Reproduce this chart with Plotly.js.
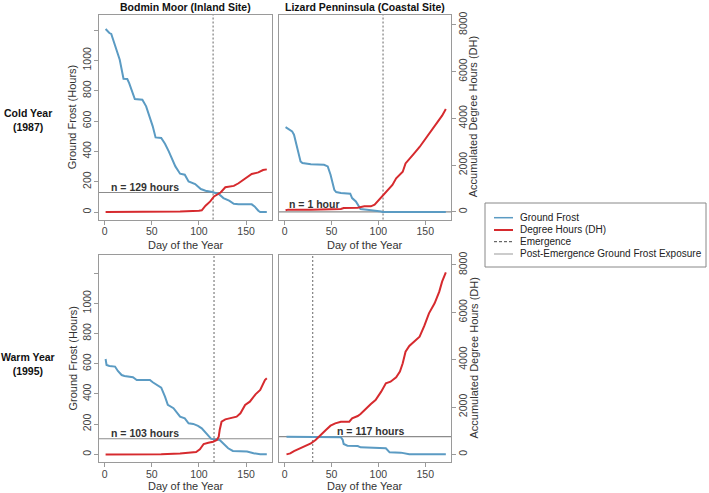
<!DOCTYPE html>
<html>
<head>
<meta charset="utf-8">
<script src="https://cdn.plot.ly/plotly-3.0.1.min.js"></script>
<style>html,body{margin:0;padding:0;background:#fff}#chart{width:709px;height:493px}</style>
</head>
<body>
<div id="chart"></div>
<script>
// ---------- DATA ----------
const panelTitles = ["Bodmin Moor (Inland Site)", "Lizard Penninsula (Coastal Site)"];
const rowLabels = ["Cold Year<br>(1987)", "Warm Year<br>(1995)"];
const xTitle = "Day of the Year";
const yLeftTitle = "Ground Frost (Hours)";
const yRightTitle = "Accumulated Degree Hours (DH)";
const xTicks = [0, 50, 100, 150];
const frostTicks = [0, 200, 400, 600, 800, 1000, 1200];
const frostTickText = ["0", "200", "400", "600", "800", "1000", ""];
const dhTicks = [0, 2000, 4000, 6000, 8000];

// Bodmin Moor 1987
const bm87FrostDay = [1,5,7,10,16,20,24,26,32,40,44,51,54,60,64,68,75,80,85,89,96,102,107,114,121,126,132,137,142,156,159,163,165,172];
const bm87Frost    = [1207,1180,1174,1114,1004,879,877,850,745,740,697,565,492,488,450,400,301,253,246,202,185,152,141,132,119,92,75,55,51,51,37,9,0,0];
const bm87DhDay    = [1,20,40,60,80,100,103,107,112,116,119,123,128,132,137,142,149,156,163,168,172];
const bm87Dh       = [0,0,0,10,25,50,70,268,451,663,733,832,1058,1086,1114,1227,1439,1622,1692,1791,1820];

// Lizard Peninsula 1987
const lz87FrostDay = [1,5,8,10,13,17,19,28,42,46,49,53,55,60,70,72,76,79,81,88,99,103,104,172];
const lz87Frost    = [560,547,532,510,433,334,323,316,312,301,246,147,132,125,121,92,70,42,20,15,9,4,1,1];
const lz87DhDay    = [1,4,28,60,63,78,85,92,96,99,104,110,115,119,122,126,129,133,138,144,149,154,160,165,168,172];
const lz87Dh       = [70,100,100,127,170,183,240,240,310,451,663,945,1157,1439,1580,1721,2073,2243,2496,2779,3061,3343,3695,3977,4118,4400];

// Bodmin Moor 1995
const bm95FrostDay = [1,2,5,11,14,18,21,30,34,48,51,55,60,64,67,73,76,80,85,89,94,99,103,106,110,113,122,126,131,136,144,151,158,165,172];
const bm95Frost    = [631,592,585,581,552,525,519,510,492,492,477,459,441,382,327,305,283,249,238,205,201,188,172,150,117,102,95,73,40,22,20,18,7,0,0];
const bm95DhDay    = [1,40,60,80,87,97,101,105,110,115,119,121,122,124,128,133,140,144,149,154,160,165,170,172];
const bm95Dh       = [0,0,10,42,70,99,211,437,493,535,606,746,1028,1380,1479,1521,1592,1732,2085,2225,2535,2718,3141,3211];

// Lizard Peninsula 1995
const lz95FrostDay = [2,60,62,63,67,78,81,92,108,112,124,133,172];
const lz95Frost    = [117,113,95,68,57,55,46,44,40,13,11,0,0];
const lz95DhDay    = [2,6,10,14,17,22,28,33,38,44,49,54,60,69,72,78,81,87,92,97,103,108,113,119,123,126,129,133,138,144,149,154,160,165,168,172];
const lz95Dh       = [0,42,141,211,296,352,465,606,817,1028,1211,1310,1380,1380,1521,1620,1704,1944,2127,2296,2648,3000,3070,3254,3493,3845,4338,4577,4761,4972,5423,5958,6380,6873,7296,7690];

const emergenceDay = [115, 105, 116, 30];
const exposureHours = [129, 1, 103, 117];
const exposureLabel = ["n = 129 hours", "n = 1 hour", "n = 103 hours", "n = 117 hours"];
const labelDay = [5, 3, 5, 54];

const legendLabels = ["Ground Frost", "Degree Hours (DH)", "Emergence", "Post-Emergence Ground Frost Exposure"];

// ---------- STYLE ----------
const W = 709, H = 493;
const FONT = "'Liberation Sans', Arial, Helvetica, sans-serif";
const BLUE = "#5b9bc3", RED = "#d62a2e", GRID = "#9a9a9a", TXT = "#333";
const px = v => v / W, py = v => 1 - v / H;

const colDom = [[px(99), px(272)], [px(279), px(451)]];
const rowTop = [15, 255], rowBot = [219.5, 462];
const rowDom = [[py(rowBot[0]), py(rowTop[0])], [py(rowBot[1]), py(rowTop[1])]];
const frostRange = [[-49, 1299], [-51, 1320]];
const dhRange = [-322, 8420];

const panels = [
  {fd: bm87FrostDay, f: bm87Frost, dd: bm87DhDay, d: bm87Dh},
  {fd: lz87FrostDay, f: lz87Frost, dd: lz87DhDay, d: lz87Dh},
  {fd: bm95FrostDay, f: bm95Frost, dd: bm95DhDay, d: bm95Dh},
  {fd: lz95FrostDay, f: lz95Frost, dd: lz95DhDay, d: lz95Dh}
];

const traces = [];
const layout = {
  width: W, height: H, margin: {l: 0, r: 0, t: 0, b: 0},
  paper_bgcolor: "#fff", plot_bgcolor: "#fff", showlegend: false,
  font: {family: FONT, color: TXT},
  shapes: [], annotations: []
};
const tickFont = {size: 10.5, color: "#444", family: FONT};
const titleFont = {size: 11, color: TXT, family: FONT};

panels.forEach((p, i) => {
  const row = Math.floor(i / 2), col = i % 2;
  const xn = i === 0 ? "" : String(i + 1);
  const yn = xn;
  const y2n = String(i + 5);
  traces.push({x: p.fd, y: p.f, xaxis: "x" + xn, yaxis: "y" + yn, type: "scatter", mode: "lines",
    line: {color: BLUE, width: 2}, name: "Ground Frost", hoverinfo: "skip"});
  traces.push({x: p.dd, y: p.d, xaxis: "x" + xn, yaxis: "y" + y2n, type: "scatter", mode: "lines",
    line: {color: RED, width: 2}, name: "Degree Hours (DH)", hoverinfo: "skip"});

  layout["xaxis" + xn] = {
    domain: colDom[col], anchor: "y" + yn, range: [-6, 177.5],
    tickmode: "array", tickvals: xTicks, ticks: "outside", ticklen: 4, tickcolor: GRID,
    tickfont: tickFont, ticklabelstandoff: -2,
    showline: true, mirror: true, linecolor: GRID, linewidth: 1,
    showgrid: false, zeroline: false
  };
  const yl = {
    domain: rowDom[row], anchor: "x" + xn, range: frostRange[row],
    showline: true, mirror: true, linecolor: GRID, linewidth: 1,
    showgrid: false, zeroline: false
  };
  if (col === 0) {
    Object.assign(yl, {tickmode: "array", tickvals: frostTicks, ticktext: frostTickText,
      ticks: "outside", ticklen: 4, tickcolor: GRID, tickangle: -90, tickfont: tickFont, ticklabelstandoff: -1});
  } else {
    Object.assign(yl, {showticklabels: false, ticks: ""});
  }
  layout["yaxis" + yn] = yl;

  const yr = {overlaying: "y" + yn, anchor: "x" + xn, side: "right", range: dhRange,
    showgrid: false, zeroline: false, showline: false};
  if (col === 1) {
    Object.assign(yr, {tickmode: "array", tickvals: dhTicks, ticks: "outside", ticklen: 4,
      tickcolor: GRID, tickangle: -90, tickfont: tickFont, ticklabelstandoff: -2});
  } else {
    Object.assign(yr, {visible: false});
  }
  layout["yaxis" + y2n] = yr;

  // axis titles
  layout.annotations.push({xref: "paper", yref: "paper", x: (colDom[col][0] + colDom[col][1]) / 2,
    y: py(row === 0 ? 245 : 486), xanchor: "center", yanchor: "middle", showarrow: false,
    text: xTitle, font: {size: 11, color: TXT, family: FONT}});
  const midY = py((rowTop[row] + rowBot[row]) / 2);
  if (col === 0) {
    layout.annotations.push({xref: "paper", yref: "paper", x: px(72), y: midY, xanchor: "center", yanchor: "middle",
      showarrow: false, textangle: -90, text: yLeftTitle, font: titleFont});
  } else {
    layout.annotations.push({xref: "paper", yref: "paper", x: px(473), y: midY, xanchor: "center", yanchor: "middle",
      showarrow: false, textangle: -90, text: yRightTitle, font: titleFont});
  }

  layout.shapes.push({type: "line", layer: "below", xref: "x" + xn + " domain", yref: "y" + yn,
    x0: 0, x1: 1, y0: exposureHours[i], y1: exposureHours[i], line: {color: "#8c8c8c", width: 1.2}});
  layout.shapes.push({type: "line", layer: "below", xref: "x" + xn, yref: "y" + yn + " domain",
    x0: emergenceDay[i], x1: emergenceDay[i], y0: 0, y1: 1, line: {color: "#666", width: 1, dash: "2px,2px"}});
  layout.annotations.push({xref: "x" + xn, yref: "y" + yn, x: labelDay[i], y: exposureHours[i],
    xanchor: "left", yanchor: "bottom", yshift: i === 1 ? 0 : -2, showarrow: false,
    text: "<b>" + exposureLabel[i] + "</b>", font: {size: 10.5, color: TXT, family: FONT}});
});

// panel titles
panelTitles.forEach((t, c) => {
  layout.annotations.push({xref: "paper", yref: "paper", x: (colDom[c][0] + colDom[c][1]) / 2, y: py(7),
    xanchor: "center", yanchor: "middle", showarrow: false, text: "<b>" + t + "</b>",
    font: {size: 10.5, color: "#111", family: FONT}});
});
// row labels
rowLabels.forEach((t, r) => {
  layout.annotations.push({xref: "paper", yref: "paper", x: px(28), y: py(r === 0 ? 120 : 364),
    xanchor: "center", yanchor: "middle", showarrow: false, text: "<b>" + t + "</b>", align: "center",
    font: {size: 10.5, color: "#111", family: FONT}});
});

// legend (framed key drawn with lines)
const boxL = px(485), boxR = px(706), boxT = py(203), boxB = py(267);
const frame = {color: "#888", width: 1};
[[boxL, boxT, boxR, boxT], [boxL, boxB, boxR, boxB], [boxL, boxB, boxL, boxT], [boxR, boxB, boxR, boxT]].forEach(s => {
  layout.shapes.push({type: "line", xref: "paper", yref: "paper", x0: s[0], y0: s[1], x1: s[2], y1: s[3], line: frame});
});
const legY = [217.7, 230, 241.7, 254];
const legStyle = [
  {color: BLUE, width: 1.5}, {color: RED, width: 2}, {color: "#444", width: 1, dash: "3px,2px"}, {color: "#aaa", width: 1.2}
];
legendLabels.forEach((t, k) => {
  layout.shapes.push({type: "line", xref: "paper", yref: "paper", x0: px(494), x1: px(513), y0: py(legY[k]), y1: py(legY[k]), line: legStyle[k]});
  layout.annotations.push({xref: "paper", yref: "paper", x: px(518), y: py(legY[k]), xanchor: "left", yanchor: "middle",
    showarrow: false, text: t, font: {size: 10, color: "#222", family: FONT}});
});

Plotly.newPlot("chart", traces, layout, {staticPlot: true, displayModeBar: false});
</script>
</body>
</html>
